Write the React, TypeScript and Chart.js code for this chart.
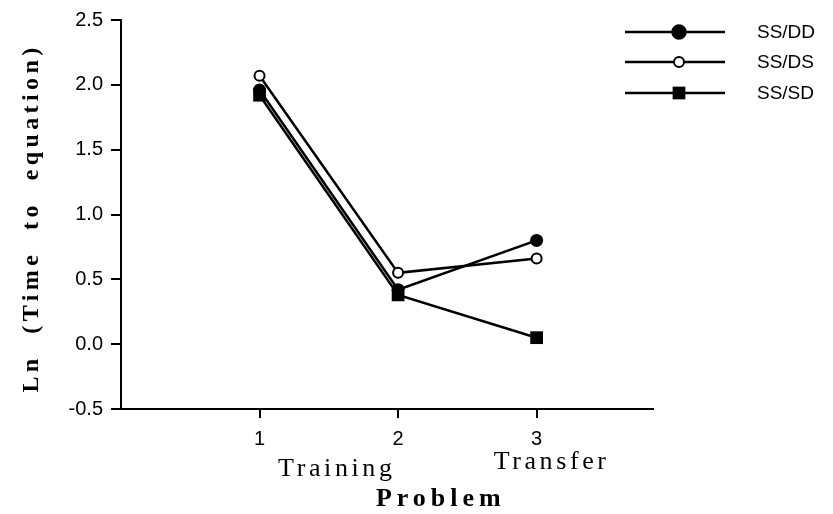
import React, { useEffect, useRef } from "react";
import { Chart, registerables } from "chart.js";

Chart.register(...registerables);

const categories = ["1", "2", "3"];
const xValues = [1, 2, 3];
const seriesNames = ["SS/DD", "SS/DS", "SS/SD"];
const ssdd = [1.96, 0.42, 0.8];
const ssds = [2.07, 0.55, 0.66];
const sssd = [1.92, 0.38, 0.05];
const yTickValues = [-0.5, 0, 0.5, 1, 1.5, 2, 2.5];
const phaseLabels = ["Training", "Transfer"];
const xTitle = "Problem";
const yTitle = "Ln  (Time  to  equation)";

const SANS = '"Liberation Sans", Arial, sans-serif';
const SERIF = '"Liberation Serif", "Times New Roman", serif';

const pts = (vals: number[]) => xValues.map((x, i) => ({ x, y: vals[i] }));

const annotPlugin = {
  id: "annot",
  afterDraw(chart: any) {
    const ctx = chart.ctx as CanvasRenderingContext2D;
    const xs = chart.scales.x;
    ctx.save();
    ctx.fillStyle = "#000";
    // y title
    ctx.save();
    ctx.translate(38, 218);
    ctx.rotate(-Math.PI / 2);
    ctx.font = `bold 24px ${SERIF}`;
    (ctx as any).letterSpacing = "4.4px";
    ctx.textAlign = "center";
    ctx.textBaseline = "alphabetic";
    ctx.fillText(yTitle, 0, 0);
    ctx.restore();

    // phase labels
    ctx.font = `26px ${SERIF}`;
    (ctx as any).letterSpacing = "3.6px";
    ctx.textAlign = "center";
    ctx.textBaseline = "alphabetic";
    const p1 = xs.getPixelForValue(1);
    const p2 = xs.getPixelForValue(2);
    const p3 = xs.getPixelForValue(3);
    ctx.fillText(phaseLabels[0], (p1 + p2) / 2 + 8, 476);
    ctx.fillText(phaseLabels[1], p3 + 15, 469);

    // x title
    ctx.font = `bold 26px ${SERIF}`;
    (ctx as any).letterSpacing = "5px";
    ctx.fillText(xTitle, (p1 + p2) / 2 + 112, 506);
    (ctx as any).letterSpacing = "0px";

    // legend
    const rows = [32, 62, 93];
    chart.data.datasets.forEach((ds: any, i: number) => {
      const y = rows[i];
      ctx.strokeStyle = "#000";
      ctx.lineWidth = 2.5;
      ctx.beginPath();
      ctx.moveTo(625, y);
      ctx.lineTo(725, y);
      ctx.stroke();
      const mx = 679;
      if (ds.pointStyle === "rect") {
        const s = ds.pointRadius * Math.SQRT1_2;
        ctx.fillStyle = "#000";
        ctx.fillRect(mx - s, y - s, 2 * s, 2 * s);
      } else {
        ctx.beginPath();
        ctx.arc(mx, y, ds.pointRadius, 0, Math.PI * 2);
        ctx.fillStyle = ds.pointBackgroundColor;
        ctx.fill();
        ctx.lineWidth = ds.pointBorderWidth;
        ctx.strokeStyle = "#000";
        ctx.stroke();
      }
      ctx.fillStyle = "#000";
      ctx.font = `19px ${SANS}`;
      ctx.textAlign = "left";
      ctx.textBaseline = "middle";
      ctx.fillText(seriesNames[i], 757, y + 1);
    });
    ctx.restore();
  },
};

export default function App() {
  const ref = useRef<HTMLCanvasElement | null>(null);
  useEffect(() => {
    if (!ref.current) return;
    const chart = new Chart(ref.current, {
      type: "line",
      data: {
        datasets: [
          {
            label: seriesNames[0],
            data: pts(ssdd),
            borderColor: "#000",
            borderWidth: 2.5,
            pointStyle: "circle",
            pointRadius: 6.5,
            pointBackgroundColor: "#000",
            pointBorderColor: "#000",
            pointBorderWidth: 0,
            order: 2,
          },
          {
            label: seriesNames[1],
            data: pts(ssds),
            borderColor: "#000",
            borderWidth: 2.5,
            pointStyle: "circle",
            pointRadius: 5,
            pointBackgroundColor: "#fff",
            pointBorderColor: "#000",
            pointBorderWidth: 2,
            order: 1,
          },
          {
            label: seriesNames[2],
            data: pts(sssd),
            borderColor: "#000",
            borderWidth: 2.5,
            pointStyle: "rect",
            pointRadius: 9,
            pointBackgroundColor: "#000",
            pointBorderColor: "#000",
            pointBorderWidth: 0,
            order: 0,
          },
        ],
      },
      options: {
        animation: false,
        responsive: false,
        events: [],
        layout: { padding: { left: 0, right: 180, top: 20, bottom: 0 } },
        plugins: { legend: { display: false }, tooltip: { enabled: false } },
        scales: {
          x: {
            type: "linear",
            min: 0,
            max: 3.84,
            afterFit: (s: any) => {
              s.height = 105;
            },
            afterBuildTicks: (s: any) => {
              s.ticks = xValues.map((v) => ({ value: v }));
            },
            ticks: {
              callback: (v: any) => categories[xValues.indexOf(Number(v))] ?? "",
              color: "#000",
              font: { family: SANS, size: 20 },
              padding: 9,
              maxRotation: 0,
              autoSkip: false,
            },
            grid: {
              drawOnChartArea: false,
              drawTicks: true,
              tickLength: 9,
              color: "#000",
              lineWidth: 2,
            },
            border: { display: true, color: "#000", width: 2 },
          },
          y: {
            min: -0.5,
            max: 2.5,
            afterFit: (s: any) => {
              s.width = 121;
            },
            afterBuildTicks: (s: any) => {
              s.ticks = yTickValues.map((v) => ({ value: v }));
            },
            ticks: {
              callback: (v: any) => Number(v).toFixed(1),
              color: "#000",
              font: { family: SANS, size: 20 },
              padding: 8,
            },
            grid: {
              drawOnChartArea: false,
              drawTicks: true,
              tickLength: 10,
              color: "#000",
              lineWidth: 2,
            },
            border: { display: true, color: "#000", width: 2 },
          },
        },
      },
      plugins: [annotPlugin],
    });
    return () => chart.destroy();
  }, []);
  return (
    <div style={{ position: "fixed", left: 0, top: 0, width: 833, height: 514, background: "#fff" }}>
      <canvas ref={ref} width={833} height={514} style={{ width: 833, height: 514, display: "block" }} />
    </div>
  );
}
